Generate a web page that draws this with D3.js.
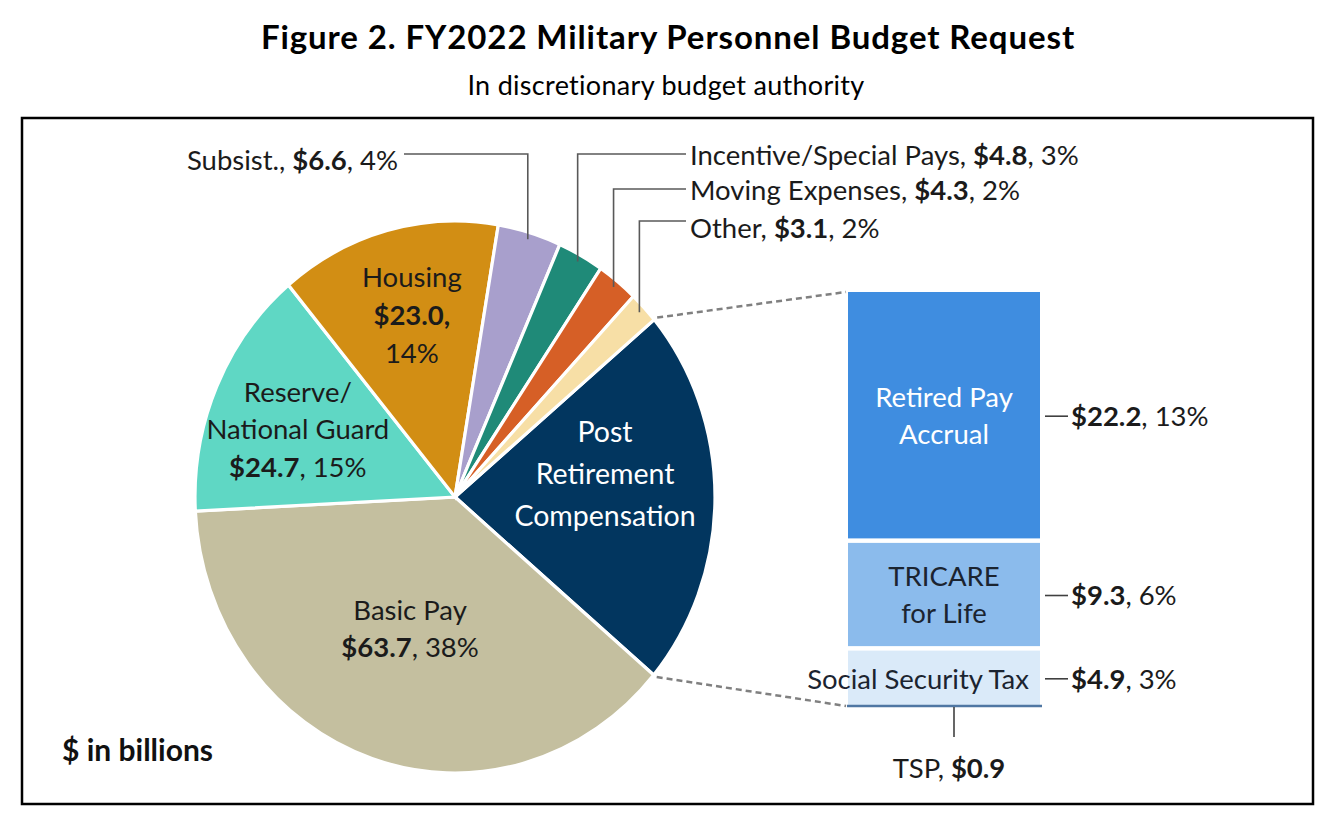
<!DOCTYPE html>
<html><head><meta charset="utf-8">
<script src="https://cdnjs.cloudflare.com/ajax/libs/d3/7.8.5/d3.min.js"></script>
<style>
body{margin:0;background:#fff;}
text{font-family:Lato, "Noto Sans", sans-serif;fill:#1b1b1b;}
</style>
</head><body>
<svg id="c" width="1327" height="816"></svg>
<script>
// ---------- data ----------
const categories = ["Post Retirement Compensation","Basic Pay","Reserve/National Guard","Housing","Subsist.","Incentive/Special Pays","Moving Expenses","Other"];
const subCategories = ["Retired Pay Accrual","TRICARE for Life","Social Security Tax","TSP"];
const subValues = [22.2, 9.3, 4.9, 0.9];
const subShares = ["13%","6%","3%",""];
const values = [d3.sum(subValues), 63.7, 24.7, 23.0, 6.6, 4.8, 4.3, 3.1];
const shares = ["", "38%", "15%", "14%", "4%", "3%", "2%", "2%"];
const title = "Figure 2. FY2022 Military Personnel Budget Request";
const subtitle = "In discretionary budget authority";
const unitNote = "$ in billions";

// ---------- style ----------
const colors = ["#02365f","#c4bf9f","#5fd7c4","#d28e14","#a89fcc","#1f8a78","#d65f26","#f7dfa6"];
const subColors = ["#3f8de0","#8bbbec","#daeaf9","#4f77a3"];
const F = 27.5;
const svg = d3.select("#c");
const cx = 455, cy = 497, R = 260, ky = 276/260;
const rad = d => d*Math.PI/180;
const pt = (a, r) => [cx + r*Math.sin(a), cy - r*Math.cos(a)*ky];

// title
svg.append("text").attr("x",668).attr("y",49).attr("text-anchor","middle")
  .style("font-weight","700").style("font-size","33px").style("letter-spacing","0.9px").style("fill","#000").text(title);
svg.append("text").attr("x",666).attr("y",95).attr("text-anchor","middle")
  .style("font-size","27px").style("letter-spacing","0.3px").style("fill","#000").text(subtitle);
// frame
svg.append("rect").attr("x",22).attr("y",118).attr("width",1291).attr("height",686)
  .attr("fill","none").attr("stroke","#000").attr("stroke-width",2.5);

// ---------- pie ----------
const startA = rad(50);
const pie = d3.pie().sort(null).startAngle(startA).endAngle(startA + 2*Math.PI);
const arcs = pie(values);
const arc = d3.arc().innerRadius(0).outerRadius(R);
const g = svg.append("g").attr("transform",`translate(${cx},${cy}) scale(1,${ky})`);
g.selectAll("path").data(arcs).join("path")
  .attr("d", arc).attr("fill",(d,i)=>colors[i])
  .attr("stroke","#fff").attr("stroke-width",3.2).attr("vector-effect","non-scaling-stroke");

function multiText(x, y, lines, lh, size, color, anchor){
  const t = svg.append("text").attr("text-anchor",anchor||"middle").style("font-size",size+"px");
  lines.forEach((ln,k)=>{
    const row = t.append("tspan").attr("x",x).attr("y",y + k*lh);
    ln.forEach(([s,b])=>row.append("tspan").text(s).style("font-weight",b?"700":"400").style("fill",color));
  });
  return t;
}
// in-slice labels: [radius fraction, angle offset deg]
const inPlace = {0:[0.583,-8.3],1:[0.507,1.3],2:[0.652,-1.6],3:[0.68,1.0]};
const inLines = {
  0:[[["Post",0]],[["Retirement",0]],[["Compensation",0]]],
  1:[[["Basic Pay",0]],[["$"+values[1].toFixed(1),1],[", "+shares[1],0]]],
  2:[[["Reserve/",0]],[["National Guard",0]],[["$"+values[2].toFixed(1),1],[", "+shares[2],0]]],
  3:[[["Housing",0]],[["$"+values[3].toFixed(1)+",",1]],[[shares[3],0]]]
};
const inLH = {0:42,1:37,2:37.5,3:38};
const inSize = {0:28.5,1:F,2:F,3:F};
[0,1,2,3].forEach(i=>{
  const a = (arcs[i].startAngle+arcs[i].endAngle)/2 + rad(inPlace[i][1]);
  const [x,y] = pt(a, R*inPlace[i][0]);
  const n = inLines[i].length;
  multiText(x, y - (n-1)*inLH[i]/2 + inSize[i]*0.36, inLines[i], inLH[i], inSize[i], i===0?"#fff":"#1b1b1b");
});

// callouts for small slices
const calloutY = {4:154, 5:154, 6:189, 7:221};
const calloutTextX = {4:398, 5:690, 6:690, 7:690};
const calloutTextDy = {4:6, 5:1, 6:1, 7:7};
[4,5,6,7].forEach(i=>{
  const a = (arcs[i].startAngle+arcs[i].endAngle)/2;
  const [x,y] = pt(a, R*0.975);
  const left = i===4;
  const lx = left ? calloutTextX[i]+6 : calloutTextX[i]-4;
  svg.append("path").attr("d",`M${x},${y}V${calloutY[i]}H${lx}`)
    .attr("fill","none").attr("stroke","#595959").attr("stroke-width",1.6);
  multiText(calloutTextX[i], calloutY[i]+calloutTextDy[i]+F*0.36,
    [[[categories[i]+", ",0],["$"+values[i].toFixed(1),1],[", "+shares[i],0]]], 0, F, "#1b1b1b", left?"end":"start");
});

// ---------- stacked bar ----------
const bx = 848, bw = 192, gap = 4.5;
const main = subValues.slice(0,3);
const yS = d3.scaleLinear().domain([0, d3.sum(main)]).range([292, 705 - 2*gap]);
let cum = 0;
const segs = main.map((v,i)=>{ const s = {i, y0: yS(cum)+i*gap, y1: yS(cum+v)+i*gap}; cum += v; return s; });
// dashed connectors
const [px0,py0] = pt(arcs[0].startAngle, R);
const [px1,py1] = pt(arcs[0].endAngle, R);
svg.append("line").attr("x1",px0+3).attr("y1",py0-2).attr("x2",bx-2).attr("y2",segs[0].y0)
  .attr("stroke","#808080").attr("stroke-width",2.5).attr("stroke-dasharray","6,4");
svg.append("line").attr("x1",px1+3).attr("y1",py1+2).attr("x2",bx-2).attr("y2",segs[2].y1+1)
  .attr("stroke","#808080").attr("stroke-width",2.5).attr("stroke-dasharray","6,4");

svg.selectAll("rect.seg").data(segs).join("rect").attr("class","seg")
  .attr("x",bx).attr("width",bw).attr("y",d=>d.y0).attr("height",d=>d.y1-d.y0)
  .attr("fill",d=>subColors[d.i]);
// TSP thin segment
svg.append("line").attr("x1",bx-1).attr("x2",bx+bw+2).attr("y1",segs[2].y1+1).attr("y2",segs[2].y1+1)
  .attr("stroke",subColors[3]).attr("stroke-width",2.5);

const subLines = [["Retired Pay","Accrual"],["TRICARE","for Life"],["Social Security Tax"]];
segs.forEach(s=>{
  const mid = (s.y0+s.y1)/2;
  const lines = subLines[s.i].map(t=>[[t,0]]);
  const n = lines.length;
  const col = s.i===0 ? "#fff" : "#1b2430";
  if (s.i===2) multiText(bx+bw-11, mid + F*0.36 + 1, lines, 37, F, col, "end");
  else multiText(bx+bw/2, mid - (n-1)*18.5 + F*0.36, lines, 37, F, col);
  svg.append("line").attr("x1",bx+bw+5).attr("x2",bx+bw+28).attr("y1",mid+1).attr("y2",mid+1)
    .attr("stroke","#404040").attr("stroke-width",1.6);
  multiText(bx+bw+31, mid+1+F*0.36, [[["$"+subValues[s.i].toFixed(1),1],[", "+subShares[s.i],0]]], 0, F, "#1b1b1b", "start");
});
// TSP callout
const tspX = 954;
svg.append("line").attr("x1",tspX).attr("x2",tspX).attr("y1",segs[2].y1+2).attr("y2",737)
  .attr("stroke","#404040").attr("stroke-width",1.6);
multiText(949, 768+F*0.36, [[[subCategories[3]+",  ",0],["$"+subValues[3].toFixed(1),1]]], 0, F, "#1b1b1b");

// unit note
svg.append("text").attr("x",62).attr("y",761).style("font-size","30px").style("font-weight","700")
  .style("fill","#111").text(unitNote);
</script>
</body></html>
